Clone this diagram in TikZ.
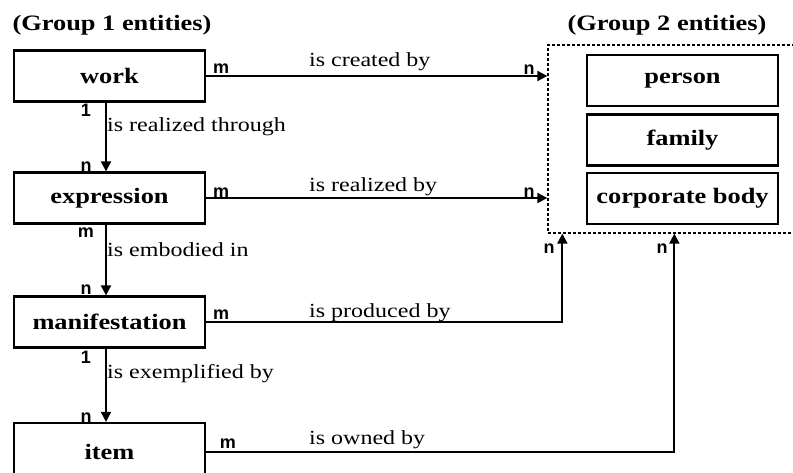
\documentclass[tikz,border=0pt]{standalone}
\usepackage{fontspec}
\setmainfont[FakeStretch=1.2]{Liberation Serif}
\newfontfamily\cardfont{Liberation Sans}
\usetikzlibrary{arrows.meta}
\tikzset{
	entity/.style={draw, line width=2.2pt, minimum width=191pt, minimum height=51pt, inner sep=0pt, font=\fontsize{22}{24}\selectfont\bfseries},
	title/.style={font=\fontsize{22}{24}\selectfont\bfseries, inner sep=0pt},
	rel/.style={font=\fontsize{20}{22}\selectfont, inner sep=0pt, anchor=west},
	card/.style={font=\cardfont\fontsize{18}{20}\selectfont\bfseries, inner sep=0pt},
	grpbox/.style={draw, dashed, dash pattern=on 3pt off 2pt, line width=1.3pt, minimum width=252pt, minimum height=188pt, inner sep=0pt},
	link/.style={line width=1.9pt}
}
\begin{document}
\begin{tikzpicture}[>={Triangle[length=10pt,width=10pt]}, x=1pt, y=-1pt]
	\useasboundingbox (0,0) rectangle (793,473);
	\clip (0,0) rectangle (793,473);
	\node[title] (g1) at (112,25) {(Group 1 entities)};
	\node[title] (g2) at (667,25) {(Group 2 entities)};
	% nhom 1
	\node[entity] (work) at (109.5,76) {work};
	\node[entity] (expr) at (109.5,198) {expression};
	\node[entity] (manif) at (109.5,322) {manifestation};
	\node[entity, minimum height=58pt] (item) at (109.5,452) {item};
	% nhom 2
	\node[grpbox] (grp) at (674,139) {};
	\node[entity] (person) at (682.5,80.5) {person};
	\node[entity] (family) at (682.5,140) {family};
	\node[entity] (corp) at (682.5,198.5) {corporate body};
	% quan he
	\draw[link, ->] ([xshift=-3.5pt]work.south) -- ([xshift=-3.5pt]expr.north);
	\draw[link, ->] ([xshift=-3.5pt]expr.south) -- ([xshift=-3.5pt]manif.north);
	\draw[link, ->] ([xshift=-3.5pt]manif.south) -- ([xshift=-3.5pt]item.north);
	\draw[link, ->] (work.east) -- (work.east -| grp.west);
	\draw[link, ->] (expr.east) -- (expr.east -| grp.west);
	\draw[link, ->] (manif.east) -| ([xshift=15pt]grp.south west);
	\draw[link, ->] (item.east) -| ([xshift=127pt]grp.south west);
	\node[rel] (through) at (107,127) {is realized through};
	\node[rel] (embodied) at (107,250) {is embodied in};
	\node[rel] (exempl) at (107,374) {is exemplified by};
	\node[rel] (created) at (309,62) {is created by};
	\node[rel] (realized) at (309,187) {is realized by};
	\node[rel] (produced) at (309,313) {is produced by};
	\node[rel] (owned) at (309,440) {is owned by};
	\foreach \x/\y/\t [count=\i] in {86/110/1, 86/167/n, 86/233/m, 86/290/n, 86/357/1, 86/418/n,
		221/69/m, 221/193/m, 221/315/m, 228/444/m, 529/70/n, 529/193/n, 549/249/n, 662/249/n}
		\node[card] (card\i) at (\x,\y) {\t};
\end{tikzpicture}
\end{document}
